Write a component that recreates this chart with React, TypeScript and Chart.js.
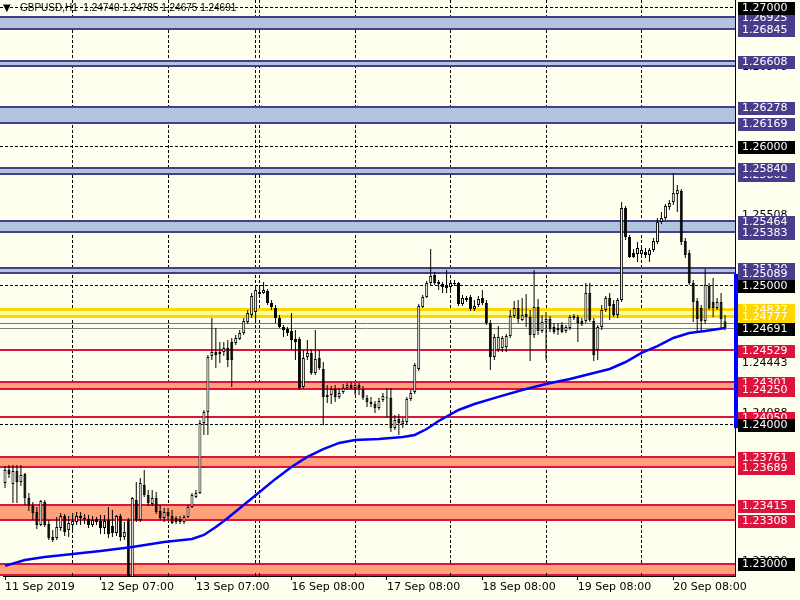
import React, { useEffect, useRef } from "react";
import { Chart, registerables } from "chart.js";

Chart.register(...registerables);

const SYMBOL = "GBPUSD,H1";

const opens = [
  1.23576, 1.23669, 1.23569, 1.23662, 1.23583, 1.23640, 1.23468, 1.23410, 1.23367, 1.23274,
  1.23439, 1.23281, 1.23187, 1.23180, 1.23252, 1.23338, 1.23238, 1.23274, 1.23295, 1.23338,
  1.23324, 1.23317, 1.23274, 1.23317, 1.23302, 1.23252, 1.23310, 1.23266, 1.23216, 1.23338,
  1.23187, 1.23310, 1.22820, 1.23453, 1.23310, 1.23561, 1.23489, 1.23425, 1.23468, 1.23374,
  1.23324, 1.23367, 1.23338, 1.23324, 1.23317, 1.23295, 1.23331, 1.23403, 1.23475, 1.23504,
  1.24007, 1.24087, 1.24489, 1.24518, 1.24504, 1.24518, 1.24547, 1.24590, 1.24583, 1.24612,
  1.24655, 1.24734, 1.24784, 1.24806, 1.24950, 1.24943, 1.24957, 1.24871, 1.24835, 1.24763,
  1.24698, 1.24684, 1.24669, 1.24612, 1.24612, 1.24266, 1.24482, 1.24511, 1.24367, 1.24475,
  1.24396, 1.24195, 1.24209, 1.24252, 1.24195, 1.24231, 1.24259, 1.24281, 1.24259, 1.24281,
  1.24245, 1.24188, 1.24159, 1.24144, 1.24116, 1.24173, 1.24195, 1.24188, 1.23971, 1.24036,
  1.24000, 1.24015, 1.24180, 1.24231, 1.24396, 1.24842, 1.24914, 1.25015, 1.25072, 1.25022,
  1.25007, 1.24993, 1.24986, 1.25015, 1.25015, 1.24864, 1.24907, 1.24914, 1.24828, 1.24856,
  1.24907, 1.24871, 1.24727, 1.24482, 1.24532, 1.24547, 1.24554, 1.24633, 1.24777, 1.24835,
  1.24748, 1.24792, 1.24770, 1.24640, 1.24842, 1.24669, 1.24734, 1.24756, 1.24698, 1.24676,
  1.24712, 1.24669, 1.24691, 1.24763, 1.24770, 1.24741, 1.24741, 1.24943, 1.24741, 1.24532,
  1.24698, 1.24820, 1.24907, 1.24864, 1.24784, 1.24892, 1.25554, 1.25345, 1.25230, 1.25223,
  1.25223, 1.25237, 1.25216, 1.25252, 1.25309, 1.25453, 1.25482, 1.25561, 1.25597, 1.25655,
  1.25676, 1.25317, 1.25230, 1.25015, 1.24885, 1.24835, 1.24741, 1.24993, 1.24878, 1.24835,
  1.24878, 1.24740,
];

const highs = [
  1.23698, 1.23705, 1.23705, 1.23705, 1.23705, 1.23648, 1.23504, 1.23439, 1.23403, 1.23453,
  1.23453, 1.23310, 1.23238, 1.23331, 1.23360, 1.23353, 1.23338, 1.23360, 1.23367, 1.23367,
  1.23353, 1.23346, 1.23338, 1.23331, 1.23346, 1.23346, 1.23403, 1.23382, 1.23346, 1.23353,
  1.23295, 1.23324, 1.23475, 1.23583, 1.23612, 1.23669, 1.23525, 1.23525, 1.23511, 1.23417,
  1.23396, 1.23396, 1.23382, 1.23338, 1.23338, 1.23346, 1.23417, 1.23504, 1.23525, 1.24029,
  1.24101, 1.24496, 1.24763, 1.24691, 1.24590, 1.24590, 1.24604, 1.24619, 1.24640, 1.24676,
  1.24763, 1.24820, 1.24943, 1.25000, 1.25000, 1.25022, 1.24971, 1.24892, 1.24856, 1.24784,
  1.24712, 1.24698, 1.24799, 1.24676, 1.24626, 1.24532, 1.24604, 1.24540, 1.24676, 1.24532,
  1.24446, 1.24281, 1.24273, 1.24281, 1.24259, 1.24288, 1.24295, 1.24302, 1.24295, 1.24295,
  1.24273, 1.24209, 1.24195, 1.24166, 1.24188, 1.24223, 1.24259, 1.24259, 1.24065, 1.24072,
  1.24043, 1.24195, 1.24245, 1.24439, 1.24864, 1.24928, 1.25029, 1.25259, 1.25094, 1.25036,
  1.25022, 1.25108, 1.25036, 1.25036, 1.25022, 1.24928, 1.24921, 1.24928, 1.24892, 1.24921,
  1.24964, 1.24892, 1.24748, 1.24648, 1.24705, 1.24633, 1.24648, 1.24820, 1.24885, 1.24892,
  1.24907, 1.24935, 1.24820, 1.25108, 1.24900, 1.24784, 1.24806, 1.24777, 1.24727, 1.24727,
  1.24734, 1.24712, 1.24784, 1.24792, 1.24784, 1.24763, 1.25015, 1.25015, 1.24763, 1.24712,
  1.24856, 1.24921, 1.24943, 1.24892, 1.24907, 1.25597, 1.25568, 1.25360, 1.25259, 1.25309,
  1.25274, 1.25266, 1.25266, 1.25338, 1.25482, 1.25525, 1.25583, 1.25612, 1.25806, 1.25719,
  1.25691, 1.25338, 1.25252, 1.25036, 1.24907, 1.24856, 1.25115, 1.25015, 1.25051, 1.24907,
  1.24943, 1.24785,
];

const lows = [
  1.23540, 1.23612, 1.23432, 1.23432, 1.23554, 1.23417, 1.23374, 1.23310, 1.23245, 1.23266,
  1.23259, 1.23166, 1.23151, 1.23166, 1.23230, 1.23194, 1.23187, 1.23238, 1.23274, 1.23274,
  1.23281, 1.23252, 1.23259, 1.23274, 1.23209, 1.23209, 1.23180, 1.23187, 1.23194, 1.23158,
  1.23166, 1.22780, 1.22780, 1.23295, 1.23295, 1.23475, 1.23410, 1.23410, 1.23353, 1.23310,
  1.23295, 1.23310, 1.23281, 1.23281, 1.23281, 1.23281, 1.23324, 1.23396, 1.23468, 1.23497,
  1.23921, 1.23921, 1.24460, 1.24403, 1.24439, 1.24489, 1.24410, 1.24266, 1.24568, 1.24604,
  1.24640, 1.24720, 1.24763, 1.24734, 1.24921, 1.24935, 1.24856, 1.24820, 1.24727, 1.24691,
  1.24626, 1.24633, 1.24532, 1.24460, 1.24245, 1.24252, 1.24460, 1.24353, 1.24353, 1.24388,
  1.23993, 1.24151, 1.24144, 1.24159, 1.24180, 1.24216, 1.24245, 1.24252, 1.24209, 1.24209,
  1.24173, 1.24123, 1.24123, 1.24079, 1.24101, 1.24159, 1.24051, 1.23943, 1.23957, 1.23921,
  1.23971, 1.24000, 1.24166, 1.24216, 1.24381, 1.24835, 1.24907, 1.25000, 1.25000, 1.24964,
  1.24943, 1.24943, 1.24964, 1.24993, 1.24849, 1.24849, 1.24878, 1.24813, 1.24813, 1.24842,
  1.24856, 1.24712, 1.24388, 1.24460, 1.24518, 1.24518, 1.24518, 1.24619, 1.24763, 1.24727,
  1.24741, 1.24698, 1.24453, 1.24619, 1.24640, 1.24655, 1.24460, 1.24662, 1.24648, 1.24640,
  1.24655, 1.24655, 1.24676, 1.24748, 1.24590, 1.24705, 1.24727, 1.24734, 1.24453, 1.24460,
  1.24676, 1.24806, 1.24748, 1.24770, 1.24763, 1.24878, 1.25324, 1.25194, 1.25194, 1.25166,
  1.25194, 1.25194, 1.25166, 1.25237, 1.25295, 1.25439, 1.25468, 1.25540, 1.25576, 1.25525,
  1.25288, 1.25194, 1.25000, 1.24734, 1.24662, 1.24662, 1.24720, 1.24820, 1.24770, 1.24820,
  1.24691, 1.24675,
];

const closes = [
  1.23669, 1.23640, 1.23662, 1.23583, 1.23633, 1.23468, 1.23410, 1.23360, 1.23274, 1.23446,
  1.23274, 1.23180, 1.23166, 1.23259, 1.23338, 1.23223, 1.23288, 1.23302, 1.23338, 1.23324,
  1.23317, 1.23274, 1.23310, 1.23295, 1.23252, 1.23302, 1.23209, 1.23216, 1.23338, 1.23187,
  1.23223, 1.22820, 1.23468, 1.23310, 1.23576, 1.23489, 1.23432, 1.23468, 1.23367, 1.23324,
  1.23367, 1.23338, 1.23288, 1.23295, 1.23295, 1.23331, 1.23403, 1.23489, 1.23504, 1.24007,
  1.24087, 1.24482, 1.24518, 1.24496, 1.24518, 1.24547, 1.24460, 1.24460, 1.24619, 1.24655,
  1.24741, 1.24799, 1.24921, 1.24964, 1.24935, 1.24964, 1.24871, 1.24842, 1.24763, 1.24698,
  1.24676, 1.24655, 1.24604, 1.24590, 1.24259, 1.24475, 1.24511, 1.24367, 1.24468, 1.24403,
  1.24195, 1.24209, 1.24252, 1.24195, 1.24223, 1.24259, 1.24281, 1.24259, 1.24281, 1.24259,
  1.24188, 1.24159, 1.24144, 1.24116, 1.24166, 1.24202, 1.24188, 1.23971, 1.24029, 1.24007,
  1.24022, 1.24180, 1.24223, 1.24424, 1.24849, 1.24914, 1.25015, 1.25065, 1.25015, 1.25007,
  1.24986, 1.24979, 1.25015, 1.25007, 1.24864, 1.24907, 1.24892, 1.24828, 1.24849, 1.24900,
  1.24871, 1.24727, 1.24482, 1.24626, 1.24626, 1.24619, 1.24633, 1.24777, 1.24835, 1.24756,
  1.24784, 1.24770, 1.24640, 1.24842, 1.24669, 1.24734, 1.24756, 1.24684, 1.24662, 1.24691,
  1.24662, 1.24698, 1.24770, 1.24777, 1.24727, 1.24720, 1.24943, 1.24748, 1.24496, 1.24698,
  1.24820, 1.24907, 1.24849, 1.24784, 1.24892, 1.25554, 1.25345, 1.25202, 1.25202, 1.25266,
  1.25252, 1.25216, 1.25252, 1.25317, 1.25453, 1.25482, 1.25568, 1.25590, 1.25662, 1.25683,
  1.25309, 1.25216, 1.25015, 1.24878, 1.24756, 1.24741, 1.25000, 1.24835, 1.24835, 1.24878,
  1.24756, 1.24691,
];

// moving average read at sample bars
const maIndex = [0, 5, 10, 17, 24, 32, 40, 47, 50, 53, 56, 60, 64, 68, 72, 76, 80, 84, 88, 94, 100, 103, 106, 109, 114, 118, 124, 130, 136, 142, 148, 152, 156, 160, 164, 168, 172, 176, 181];
const maValues = [1.22979, 1.23022, 1.23043, 1.23065, 1.23086, 1.23115, 1.23151, 1.23173, 1.23202, 1.23259, 1.23324, 1.23417, 1.23511, 1.23605, 1.23691, 1.23763, 1.23820, 1.23864, 1.23885, 1.23892, 1.23907, 1.23921, 1.23964, 1.24022, 1.24101, 1.24144, 1.24195, 1.24245, 1.24288, 1.24324, 1.24367, 1.24396, 1.24446, 1.24511, 1.24561, 1.24619, 1.24655, 1.24669, 1.24691];

const xTickIndex = [0, 24, 48, 72, 96, 120, 144, 168];
const xTickLabels = ["11 Sep 2019", "12 Sep 07:00", "13 Sep 07:00", "16 Sep 08:00", "17 Sep 08:00", "18 Sep 08:00", "19 Sep 08:00", "20 Sep 08:00"];
const gridIndex = [17, 41, 63, 64, 88, 112, 136, 160];

const Y_MIN = 1.229065;
const Y_MAX = 1.270504;

const blueZoneTop = [1.26925, 1.26611, 1.26278, 1.25840, 1.25464, 1.25120];
const blueZoneBottom = [1.26845, 1.26578, 1.26169, 1.25802, 1.25383, 1.25089];
const yellowZoneTop = [1.24827];
const yellowZoneBottom = [1.24777];
const redZoneTop = [1.24301, 1.23761, 1.23415, 1.22990];
const redZoneBottom = [1.24250, 1.23689, 1.23308, 1.22915];
const redLines = [1.24529, 1.24050];
const bidPrice = 1.24691;
const askPrice = 1.24727;
const axisBarTop = 1.25080;
const axisBarBottom = 1.23970;

const priceLabels = [
  1.26578, 1.25508, 1.24443, 1.24088, 1.23020,
  1.26925, 1.26845, 1.26611, 1.26608, 1.26278, 1.26169, 1.25802, 1.25840,
  1.25464, 1.25383, 1.25120, 1.25089, 1.24827, 1.24777,
  1.24529, 1.24301, 1.24250, 1.24050, 1.23761, 1.23689, 1.23415, 1.23308,
  1.27000, 1.26000, 1.25000, 1.24691, 1.24000, 1.23000,
];
const priceLabelKinds = [
  "text", "text", "text", "text", "text",
  "blue", "blue", "blue", "blue", "blue", "blue", "blue", "blue",
  "blue", "blue", "blue", "blue", "yellow", "yellow",
  "red", "red", "red", "red", "red", "red", "red", "red",
  "black", "black", "black", "black", "black", "black",
];

const FONT = '"DejaVu Sans", Verdana, sans-serif';
const TITLE_FONT = '"Liberation Sans", Arial, sans-serif';
const BG = "#FFFFF0";
const KIND_BG: Record<string, string> = {
  blue: "#483D8B",
  yellow: "#FFD700",
  red: "#DC143C",
  black: "#000000",
};

export default function App() {
  const ref = useRef<HTMLCanvasElement>(null);

  useEffect(() => {
    const canvas = ref.current;
    if (!canvas) return;
    const n = opens.length;
    const labels = Array.from({ length: n + 2 }, (_, i) => String(i));
    const wickData = lows.map((l, i) => [l, highs[i]]);
    const bodyData = opens.map((o, i) => [Math.min(o, closes[i]), Math.max(o, closes[i])]);
    const bodyColors = opens.map((o, i) => (closes[i] >= o ? "#FFFFFF" : "#000000"));
    const maData: (number | null)[] = labels.map(() => null);
    maIndex.forEach((idx, k) => {
      maData[idx] = maValues[k];
    });

    const mt4Plugin = {
      id: "mt4",
      beforeDraw(chart: any) {
        const ctx = chart.ctx;
        ctx.save();
        ctx.fillStyle = BG;
        ctx.fillRect(0, 0, chart.width, chart.height);
        ctx.restore();
      },
      beforeDatasetsDraw(chart: any) {
        const ctx = chart.ctx;
        const area = chart.chartArea;
        const ys = chart.scales.y;
        const xs = chart.scales.x;
        const left = 0;
        const right = area.right;
        ctx.save();
        ctx.beginPath();
        ctx.rect(0, area.top, area.right, area.bottom - area.top);
        ctx.clip();

        // grid
        ctx.strokeStyle = "#000000";
        ctx.lineWidth = 1;
        ctx.setLineDash([3, 2]);
        ys.ticks.forEach((t: any) => {
          const y = Math.round(ys.getPixelForValue(t.value)) + 0.5;
          ctx.beginPath();
          ctx.moveTo(left, y);
          ctx.lineTo(right, y);
          ctx.stroke();
        });
        gridIndex.forEach((gi) => {
          const x = Math.floor(xs.getPixelForValue(gi)) + 0.5;
          ctx.beginPath();
          ctx.moveTo(x, area.top);
          ctx.lineTo(x, area.bottom);
          ctx.stroke();
        });
        ctx.setLineDash([]);

        const zone = (top: number, bottom: number, fill: string, border: string, bw: number) => {
          const y1 = ys.getPixelForValue(top);
          const y2 = ys.getPixelForValue(bottom);
          ctx.fillStyle = fill;
          ctx.fillRect(left, y1, right - left, y2 - y1);
          ctx.fillStyle = border;
          ctx.fillRect(left, Math.round(y1 - bw / 2), right - left, bw);
          ctx.fillRect(left, Math.round(y2 - bw / 2), right - left, bw);
        };
        blueZoneTop.forEach((t, i) => zone(t, blueZoneBottom[i], "#B0C4DE", "#483D8B", 2));
        yellowZoneTop.forEach((t, i) => zone(t, yellowZoneBottom[i], "#FFFF99", "#FFD700", 3));
        redZoneTop.forEach((t, i) => zone(t, redZoneBottom[i], "#FFA07A", "#DC143C", 2));
        redLines.forEach((p) => {
          const y = ys.getPixelForValue(p);
          ctx.fillStyle = "#DC143C";
          ctx.fillRect(left, Math.round(y - 1), right - left, 2);
        });
        const hline = (p: number, color: string) => {
          const y = Math.round(ys.getPixelForValue(p)) + 0.5;
          ctx.strokeStyle = color;
          ctx.lineWidth = 1;
          ctx.beginPath();
          ctx.moveTo(left, y);
          ctx.lineTo(right, y);
          ctx.stroke();
        };
        hline(askPrice, "#FF4500");
        hline(bidPrice, "#808080");
        ctx.restore();
      },
      afterDraw(chart: any) {
        const ctx = chart.ctx;
        const area = chart.chartArea;
        const ys = chart.scales.y;
        const xs = chart.scales.x;
        ctx.save();

        // x-axis tick marks
        ctx.strokeStyle = "#000000";
        ctx.lineWidth = 1;
        xTickIndex.forEach((ti) => {
          const x = Math.floor(xs.getPixelForValue(ti)) + 0.5;
          ctx.beginPath();
          ctx.moveTo(x, area.bottom);
          ctx.lineTo(x, area.bottom + 4);
          ctx.stroke();
        });
        gridIndex.forEach((gi) => {
          const x = Math.floor(xs.getPixelForValue(gi)) + 0.5;
          ctx.beginPath();
          ctx.moveTo(x, area.bottom - 3);
          ctx.lineTo(x, area.bottom);
          ctx.stroke();
        });

        // blue bar on the price axis
        const by1 = ys.getPixelForValue(axisBarTop);
        const by2 = ys.getPixelForValue(axisBarBottom);
        ctx.fillStyle = "#0000FF";
        ctx.fillRect(area.right - 1, by1, 4, by2 - by1);

        // price labels
        ctx.font = `11px ${FONT}`;
        ctx.textBaseline = "middle";
        ctx.textAlign = "left";
        priceLabels.forEach((p, i) => {
          const kind = priceLabelKinds[i];
          const y = Math.round(ys.getPixelForValue(p));
          const txt = p.toFixed(5);
          if (kind === "text") {
            ctx.fillStyle = "#000000";
            ctx.fillText(txt, area.right + 7, y + 1.5);
          } else {
            ctx.fillStyle = KIND_BG[kind];
            ctx.fillRect(area.right + 3, y - 5, 57, 13);
            ctx.fillStyle = "#FFFFFF";
            ctx.fillText(txt, area.right + 7, y + 1.5);
          }
        });

        // title
        const last = n - 1;
        ctx.fillStyle = "#000000";
        ctx.font = `10px ${FONT}`;
        ctx.fillText("▼", 3, 8);
        ctx.font = `10px ${TITLE_FONT}`;
        const title = `${SYMBOL}  ${opens[last].toFixed(5)} ${highs[last].toFixed(5)} ${lows[last].toFixed(5)} ${closes[last].toFixed(5)}`;
        ctx.fillText(title, 20, 8);
        ctx.restore();
      },
    };

    const chart = new Chart(canvas, {
      type: "bar",
      data: {
        labels,
        datasets: [
          {
            type: "bar",
            data: wickData as any,
            backgroundColor: "#000000",
            borderWidth: 0,
            barThickness: 1,
            grouped: false,
            inflateAmount: 0,
            order: 3,
          } as any,
          {
            type: "bar",
            data: bodyData as any,
            backgroundColor: bodyColors,
            borderColor: "#000000",
            borderWidth: 1,
            borderSkipped: false,
            barThickness: 3,
            grouped: false,
            inflateAmount: 0,
            order: 2,
          } as any,
          {
            type: "line",
            data: maData as any,
            borderColor: "#0000FF",
            borderWidth: 2.5,
            pointRadius: 0,
            spanGaps: true,
            tension: 0,
            order: 1,
          } as any,
        ],
      },
      options: {
        responsive: false,
        animation: false,
        devicePixelRatio: 1,
        events: [],
        layout: { padding: { left: 1.5, top: 0, right: 0, bottom: 0 } },
        plugins: { legend: { display: false }, tooltip: { enabled: false } },
        scales: {
          x: {
            type: "category",
            offset: true,
            grid: { display: false, drawTicks: false },
            border: { display: true, color: "#000000", width: 1, z: 1 },
            ticks: {
              autoSkip: false,
              maxRotation: 0,
              minRotation: 0,
              align: "start",
              padding: 5,
              color: "#000000",
              font: { family: FONT, size: 11 },
              callback: (_v: any, i: number) => {
                const k = xTickIndex.indexOf(i);
                return k >= 0 ? xTickLabels[k] : "";
              },
            },
            afterFit: (s: any) => {
              s.height = 24;
            },
          },
          y: {
            type: "linear",
            position: "right",
            min: Y_MIN,
            max: Y_MAX,
            grid: { display: false, drawTicks: false },
            border: { display: true, color: "#000000", width: 1, z: 1 },
            ticks: { display: false, stepSize: 0.01, includeBounds: false },
            afterFit: (s: any) => {
              s.width = 65;
            },
          },
        },
      } as any,
      plugins: [mt4Plugin],
    });
    return () => chart.destroy();
  }, []);

  return (
    <div style={{ position: "fixed", left: 0, top: 0, width: 800, height: 600 }}>
      <canvas ref={ref} width={800} height={600} style={{ display: "block" }} />
    </div>
  );
}
